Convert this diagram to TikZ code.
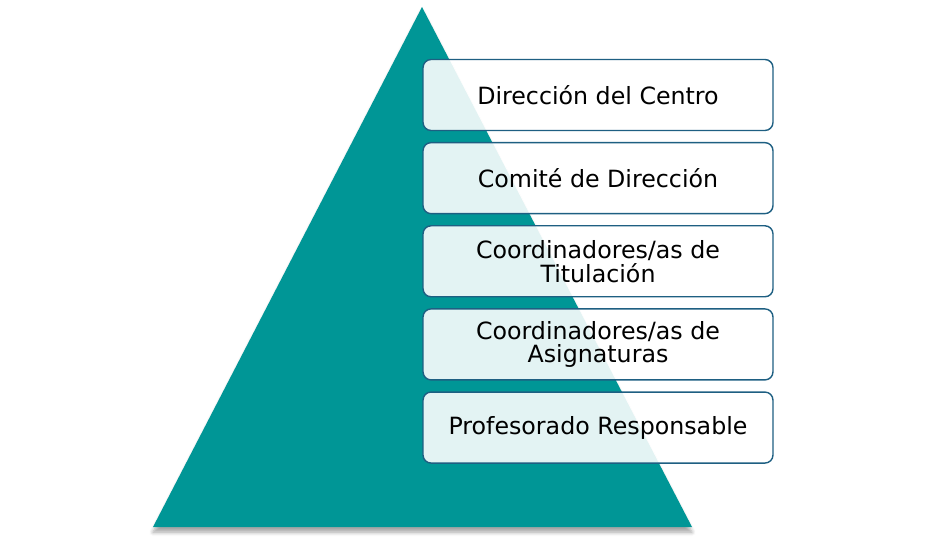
\documentclass[tikz,border=0pt]{standalone}
\usepackage{fontspec}
\setmainfont{DejaVu Sans}
\usetikzlibrary{positioning,shadows.blur}
\definecolor{pyramidColor}{RGB}{0,150,150}
\definecolor{boxLine}{RGB}{30,95,130}
\tikzstyle{canvas} = [x = 0.02cm, y = -0.02cm]
\tikzstyle{pyramidStyle} = [fill=pyramidColor, blur shadow={shadow xshift=0pt, shadow yshift=-3pt, shadow blur steps=6, shadow opacity=35}]
\tikzstyle{levelBox} = [draw=boxLine, line width=.8pt, fill=white, fill opacity=.89, text opacity=1, rounded corners=.16cm, minimum width=7cm, minimum height=1.42cm, align=center, font=\fontsize{13.5}{13.6}\selectfont, inner sep=0pt]
\begin{document}
\begin{tikzpicture}[canvas]
        \useasboundingbox (0,0) rectangle (926,540);
        % pyramid
        \fill [pyramidStyle] (153,527) -- (422,7) -- (692,527) -- cycle;
        % levels
        \node [levelBox] (direccion) at (598,95) {Dirección del Centro};
        \node [levelBox, below = 0.215cm of direccion] (comite) {Comité de Dirección};
        \node [levelBox, below = 0.215cm of comite] (titulacion) {Coordinadores/as de\\Titulación};
        \node [levelBox, below = 0.215cm of titulacion] (asignaturas) {Coordinadores/as de\\Asignaturas};
        \node [levelBox, below = 0.215cm of asignaturas] (profesorado) {Profesorado Responsable};
      \end{tikzpicture}
\end{document}
